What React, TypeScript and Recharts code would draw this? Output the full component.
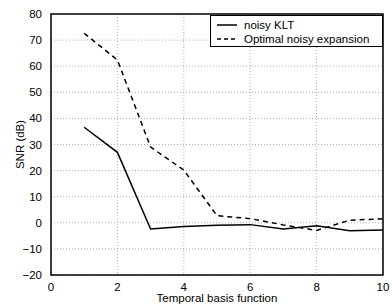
import { LineChart, Line, XAxis, YAxis, CartesianGrid, ReferenceArea, Label } from "recharts";

const basis = [1, 2, 3, 4, 5, 6, 7, 8, 9, 10];
const noisyKLT = [36.6, 27, -2.4, -1.4, -0.9, -0.7, -2.4, -1.1, -3, -2.8];
const optimalNoisy = [72.6, 62.4, 29, 20.2, 2.7, 1.6, -0.8, -2.9, 1, 1.5];
const xTicks = [0, 2, 4, 6, 8, 10];
const yTicks = [-20, -10, 0, 10, 20, 30, 40, 50, 60, 70, 80];

const data = basis.map((b, i) => ({ b, klt: noisyKLT[i], opt: optimalNoisy[i] }));

const FONT = "'Liberation Sans', Arial, sans-serif";
const fmt = (v: number) => String(v).replace("-", "\u2212");
const tickStyle = { fill: "#000", fontSize: 11.5, fontFamily: FONT };

function LegendBox() {
  return (
    <svg width={173} height={32} style={{ display: "block", position: "absolute", left: 210, top: 15 }}>
      <rect x={0.5} y={0.5} width={172} height={31} fill="#fff" stroke="#000" />
      <line x1={7} y1={10} x2={27} y2={10} stroke="#000" strokeWidth={1.5} />
      <text x={34} y={14} fontSize={11.5} fontFamily={FONT}>noisy KLT</text>
      <line x1={7} y1={24} x2={27} y2={24} stroke="#000" strokeWidth={1.5} strokeDasharray="4 3" />
      <text x={34} y={28} fontSize={11.5} fontFamily={FONT}>Optimal noisy expansion</text>
    </svg>
  );
}

export default function App() {
  return (
    <div style={{ position: "absolute", left: 0, top: 0, width: 392, height: 304, background: "#fff" }}>
      <LineChart width={392} height={304} data={data} margin={{ top: 14, right: 9, left: 0, bottom: 0 }}>
        <CartesianGrid stroke="#999" strokeDasharray="1 2" strokeWidth={0.8} />
        <XAxis dataKey="b" type="number" domain={[0, 10]} ticks={xTicks} height={29}
          tickFormatter={fmt} tickLine={false} axisLine={false} tick={tickStyle} tickMargin={2}>
          <Label value="Temporal basis function" position="insideBottom" offset={2}
            style={{ fill: "#000", fontSize: 11.5, fontFamily: FONT }} />
        </XAxis>
        <XAxis xAxisId="bin" type="number" domain={[0, 10]} ticks={xTicks} height={0}
          mirror tick={false} axisLine={false} tickSize={4} tickLine={{ stroke: "#000" }} />
        <XAxis xAxisId="top" orientation="top" type="number" domain={[0, 10]} ticks={xTicks} height={0}
          mirror tick={false} axisLine={false} tickSize={4} tickLine={{ stroke: "#000" }} />
        <YAxis type="number" domain={[-20, 80]} ticks={yTicks} width={51}
          tickFormatter={fmt} tickLine={false} axisLine={false} tick={tickStyle} tickMargin={3}>
          <Label value="SNR (dB)" angle={-90} position="insideLeft" offset={20}
            style={{ fill: "#000", fontSize: 11.5, fontFamily: FONT, textAnchor: "middle" }} />
        </YAxis>
        <YAxis yAxisId="lin" type="number" domain={[-20, 80]} ticks={yTicks} width={0}
          mirror tick={false} axisLine={false} tickSize={4} tickLine={{ stroke: "#000" }} />
        <YAxis yAxisId="right" orientation="right" type="number" domain={[-20, 80]} ticks={yTicks} width={0}
          mirror tick={false} axisLine={false} tickSize={4} tickLine={{ stroke: "#000" }} />
        <ReferenceArea x1={0} x2={10} y1={-20} y2={80} fill="none" fillOpacity={0} stroke="#000" strokeOpacity={1} strokeWidth={1.5} ifOverflow="visible" />
        <Line dataKey="klt" stroke="#000" strokeWidth={1.5} dot={false} isAnimationActive={false} />
        <Line dataKey="opt" stroke="#000" strokeWidth={1.5} strokeDasharray="5 4" dot={false} isAnimationActive={false} />
      </LineChart>
      <LegendBox />
    </div>
  );
}
